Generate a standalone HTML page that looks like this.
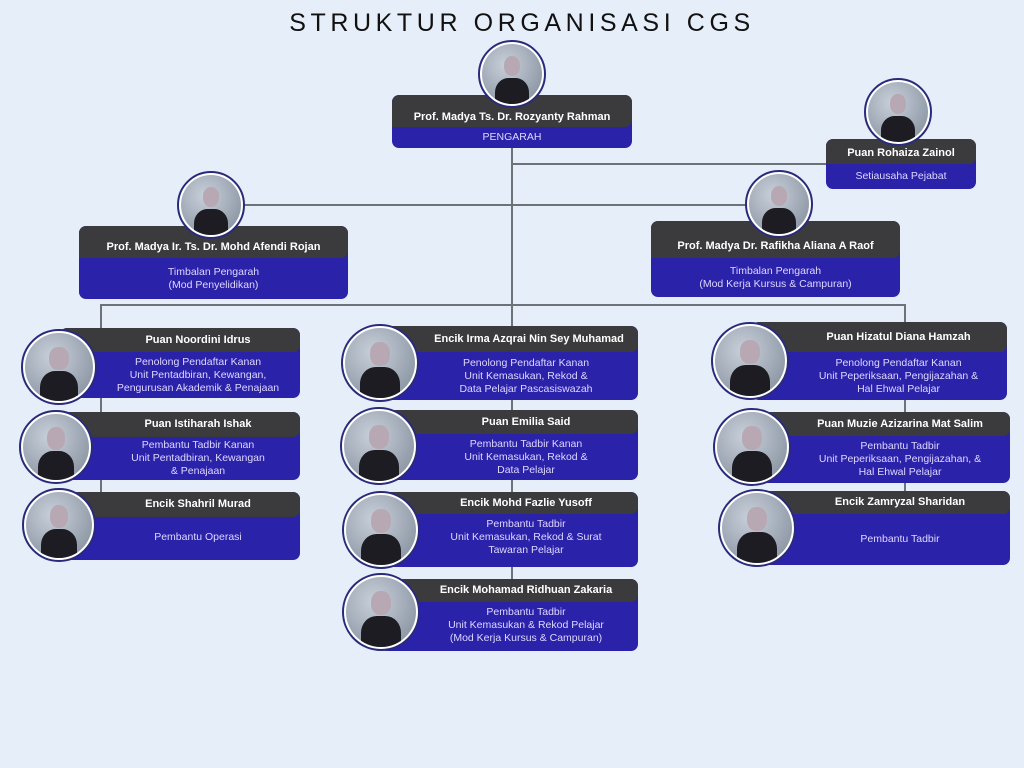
<!DOCTYPE html>
<html><head><meta charset="utf-8"><style>
*{margin:0;padding:0;box-sizing:border-box}
body{width:1024px;height:768px;background:#e6eef9;position:relative;overflow:hidden;font-family:"Liberation Sans",sans-serif}
.t{position:absolute;left:0;width:1044px;top:9px;text-align:center;font-size:25px;letter-spacing:4.6px;color:#111}
.l{position:absolute;background:#6d7178}
.c{position:absolute;background:#2b22aa;border-radius:7px;overflow:hidden;color:#ded8ff;text-align:center;font-size:10.5px;line-height:13px}
.h{background:#3b3b3d;color:#fff;font-weight:bold;font-size:11px;display:flex;align-items:center;justify-content:center;border-radius:7px 7px 7px 0}
.r{display:flex;flex-direction:column;justify-content:center}
.p{position:absolute;border-radius:50%;border:2px solid #2a2a7a;background:#fff;padding:2px;z-index:2}
.p>div{width:100%;height:100%;border-radius:50%;background:radial-gradient(circle at 40% 35%,#c8d0da,#7d8896);position:relative;overflow:hidden}
.hd{position:absolute;left:36%;top:20%;width:28%;height:34%;border-radius:45%;background:#b8a8b4}
.bd{position:absolute;left:22%;top:56%;width:56%;height:60%;border-radius:40% 40% 0 0;background:#1c1c22}
</style></head><body>
<div class="t">STRUKTUR ORGANISASI CGS</div>

<div class="l" style="left:511px;top:148px;width:2px;height:158px"></div>
<div class="l" style="left:512px;top:163px;width:314px;height:2px"></div>
<div class="l" style="left:244px;top:204px;width:502px;height:2px"></div>
<div class="l" style="left:100px;top:304px;width:806px;height:2px"></div>
<div class="l" style="left:100px;top:304px;width:2px;height:190px"></div>
<div class="l" style="left:511px;top:304px;width:2px;height:280px"></div>
<div class="l" style="left:904px;top:304px;width:2px;height:190px"></div>

<div class="c" style="left:392px;top:95px;width:240px;height:53px"><div class="h" style="height:32px;padding-top:12px">Prof. Madya Ts. Dr. Rozyanty Rahman</div><div class="r" style="height:21px">PENGARAH</div></div>
<div class="p" style="left:478px;top:40px;width:68px;height:68px"><div><i class="hd"></i><i class="bd"></i></div></div>

<div class="c" style="left:826px;top:139px;width:150px;height:50px"><div class="h" style="height:25px;padding-top:4px">Puan Rohaiza Zainol</div><div class="r" style="height:25px">Setiausaha Pejabat</div></div>
<div class="p" style="left:864px;top:78px;width:68px;height:68px"><div><i class="hd"></i><i class="bd"></i></div></div>

<div class="c" style="left:79px;top:226px;width:269px;height:73px"><div class="h" style="height:32px;padding-top:10px">Prof. Madya Ir. Ts. Dr. Mohd Afendi Rojan</div><div class="r" style="height:41px">Timbalan Pengarah<br>(Mod Penyelidikan)</div></div>
<div class="p" style="left:177px;top:171px;width:68px;height:68px"><div><i class="hd"></i><i class="bd"></i></div></div>

<div class="c" style="left:651px;top:221px;width:249px;height:76px"><div class="h" style="height:37px;padding-top:14px">Prof. Madya Dr. Rafikha Aliana A Raof</div><div class="r" style="height:39px">Timbalan Pengarah<br>(Mod Kerja Kursus &amp; Campuran)</div></div>
<div class="p" style="left:745px;top:170px;width:68px;height:68px"><div><i class="hd"></i><i class="bd"></i></div></div>

<!-- col1 -->
<div class="c" style="left:60px;top:328px;width:240px;height:70px"><div class="h" style="height:24px;padding-left:36px">Puan Noordini Idrus</div><div class="r" style="height:46px;padding-left:36px">Penolong Pendaftar Kanan<br>Unit Pentadbiran, Kewangan,<br>Pengurusan Akademik &amp; Penajaan</div></div>
<div class="p" style="left:21px;top:329px;width:76px;height:76px"><div><i class="hd"></i><i class="bd"></i></div></div>
<div class="c" style="left:60px;top:412px;width:240px;height:68px"><div class="h" style="height:25px;padding-left:36px">Puan Istiharah Ishak</div><div class="r" style="height:43px;padding-left:36px">Pembantu Tadbir Kanan<br>Unit Pentadbiran, Kewangan<br>&amp; Penajaan</div></div>
<div class="p" style="left:19px;top:410px;width:74px;height:74px"><div><i class="hd"></i><i class="bd"></i></div></div>
<div class="c" style="left:60px;top:492px;width:240px;height:68px"><div class="h" style="height:25px;padding-left:36px">Encik Shahril Murad</div><div class="r" style="height:40px;padding-left:36px">Pembantu Operasi</div></div>
<div class="p" style="left:22px;top:488px;width:74px;height:74px"><div><i class="hd"></i><i class="bd"></i></div></div>

<!-- col2 -->
<div class="c" style="left:380px;top:326px;width:258px;height:74px"><div class="h" style="height:26px;padding-left:40px">Encik Irma Azqrai Nin Sey Muhamad</div><div class="r" style="height:48px;padding-left:34px">Penolong Pendaftar Kanan<br>Unit Kemasukan, Rekod &amp;<br>Data Pelajar Pascasiswazah</div></div>
<div class="p" style="left:341px;top:324px;width:78px;height:78px"><div><i class="hd"></i><i class="bd"></i></div></div>
<div class="c" style="left:380px;top:410px;width:258px;height:70px"><div class="h" style="height:24px;padding-left:34px">Puan Emilia Said</div><div class="r" style="height:46px;padding-left:34px">Pembantu Tadbir Kanan<br>Unit Kemasukan, Rekod &amp;<br>Data Pelajar</div></div>
<div class="p" style="left:340px;top:407px;width:78px;height:78px"><div><i class="hd"></i><i class="bd"></i></div></div>
<div class="c" style="left:380px;top:492px;width:258px;height:75px"><div class="h" style="height:22px;padding-left:34px">Encik Mohd Fazlie Yusoff</div><div class="r" style="height:46px;padding-left:34px">Pembantu Tadbir<br>Unit Kemasukan, Rekod &amp; Surat<br>Tawaran Pelajar</div></div>
<div class="p" style="left:342px;top:491px;width:78px;height:78px"><div><i class="hd"></i><i class="bd"></i></div></div>
<div class="c" style="left:380px;top:579px;width:258px;height:72px"><div class="h" style="height:23px;padding-left:34px">Encik Mohamad Ridhuan Zakaria</div><div class="r" style="height:46px;padding-left:34px">Pembantu Tadbir<br>Unit Kemasukan &amp; Rekod Pelajar<br>(Mod Kerja Kursus &amp; Campuran)</div></div>
<div class="p" style="left:342px;top:573px;width:78px;height:78px"><div><i class="hd"></i><i class="bd"></i></div></div>

<!-- col3 -->
<div class="c" style="left:752px;top:322px;width:255px;height:78px"><div class="h" style="height:30px;padding-left:38px">Puan Hizatul Diana Hamzah</div><div class="r" style="height:48px;padding-left:38px">Penolong Pendaftar Kanan<br>Unit Peperiksaan, Pengijazahan &amp;<br>Hal Ehwal Pelajar</div></div>
<div class="p" style="left:711px;top:322px;width:78px;height:78px"><div><i class="hd"></i><i class="bd"></i></div></div>
<div class="c" style="left:752px;top:412px;width:258px;height:71px"><div class="h" style="height:24px;padding-left:38px">Puan Muzie Azizarina Mat Salim</div><div class="r" style="height:47px;padding-left:38px">Pembantu Tadbir<br>Unit Peperiksaan, Pengijazahan, &amp;<br>Hal Ehwal Pelajar</div></div>
<div class="p" style="left:713px;top:408px;width:78px;height:78px"><div><i class="hd"></i><i class="bd"></i></div></div>
<div class="c" style="left:752px;top:491px;width:258px;height:74px"><div class="h" style="height:23px;padding-left:38px">Encik Zamryzal Sharidan</div><div class="r" style="height:51px;padding-left:38px">Pembantu Tadbir</div></div>
<div class="p" style="left:718px;top:489px;width:78px;height:78px"><div><i class="hd"></i><i class="bd"></i></div></div>
</body></html>
